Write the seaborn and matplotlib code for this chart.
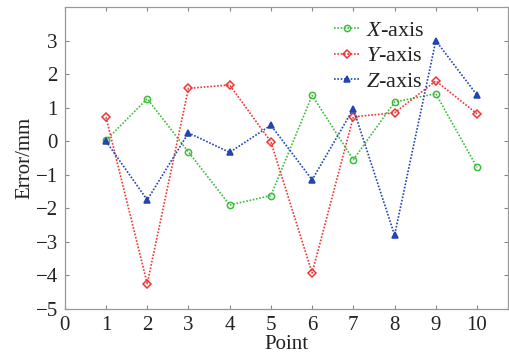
import matplotlib
matplotlib.use("Agg")
import matplotlib.pyplot as plt
import seaborn as sns
import pandas as pd

points = [1, 2, 3, 4, 5, 6, 7, 8, 9, 10]
x_err = [0.03, 1.27, -0.32, -1.90, -1.62, 1.37, -0.55, 1.17, 1.42, -0.78]
y_err = [0.72, -4.25, 1.58, 1.68, -0.02, -3.93, 0.73, 0.85, 1.80, 0.82]
z_err = [0.00, -1.75, 0.25, -0.33, 0.48, -1.15, 0.97, -2.80, 3.00, 1.38]
labels = [r"$\it{X}$-axis", r"$\it{Y}$-axis", r"$\it{Z}$-axis"]

sns.set_style("ticks")
plt.rcParams["font.family"] = ["Liberation Serif", "DejaVu Serif"]
plt.rcParams["mathtext.fontset"] = "custom"
plt.rcParams["mathtext.it"] = "Liberation Serif:italic"
plt.rcParams["mathtext.rm"] = "Liberation Serif"

fig = plt.figure(figsize=(5.1, 3.6), dpi=100)
ax = fig.add_axes([0.127, 0.142, 0.869, 0.838])

styles = [
    (x_err, "#3dbb3d", "o"),
    (y_err, "#f03535", "D"),
    (z_err, "#2444b0", "^"),
]
for (vals, color, marker), lab in zip(styles, labels):
    df = pd.DataFrame({"Point": points, "Error": vals})
    sns.lineplot(data=df, x="Point", y="Error", ax=ax, color=color,
                 linestyle=(0, (1, 1)), linewidth=1.2, marker=marker,
                 markersize=4.5 if marker != "D" else 4,
                 markerfacecolor="none" if marker != "^" else color,
                 markeredgecolor=color, markeredgewidth=1.1, label=lab)

ax.set_xlim(0, 10.75)
ax.set_ylim(-5, 4)
ax.set_xticks(range(0, 11))
ax.set_yticks(range(-5, 4))
ax.set_yticklabels([str(v).replace("-", "\u2212") for v in range(-5, 4)])
ax.tick_params(direction="in", length=3, width=0.8, colors="#888888",
               labelcolor="#222222", labelsize=15, top=True, right=True)
ax.tick_params(axis="x", pad=5)
ax.tick_params(axis="y", pad=5)
for s in ax.spines.values():
    s.set_color("#999999")
    s.set_linewidth(0.9)
ax.set_xlabel("Point", fontsize=15, color="#222222", labelpad=0)
ax.set_ylabel("Error/mm", fontsize=15, color="#222222", labelpad=1)

leg = ax.legend(loc="upper left", bbox_to_anchor=(0.572, 1.008), frameon=False,
                fontsize=16, handlelength=1.15, handletextpad=0.3,
                labelspacing=0.22, borderpad=0.2)
for t in leg.get_texts():
    t.set_color("#222222")

fig.savefig("out.png", dpi=100)
